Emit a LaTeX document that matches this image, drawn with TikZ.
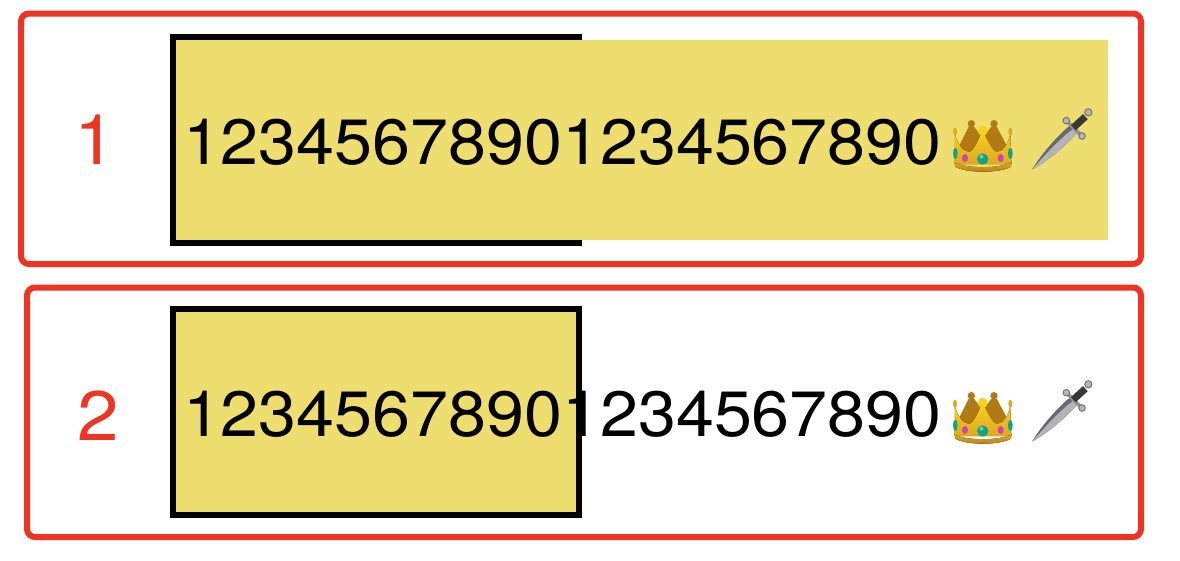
\documentclass[tikz,border=0pt]{standalone}
\usepackage{fontspec}
\setmainfont[FakeStretch=1.066]{TeX Gyre Heros}
\definecolor{redline}{HTML}{EE3524}
\definecolor{sand}{HTML}{EEDE70}
\definecolor{gold}{HTML}{DDA823}
\definecolor{golddark}{HTML}{B17A14}
\definecolor{goldlight}{HTML}{F8D21F}
\definecolor{gem}{HTML}{12A382}
\definecolor{pinkgem}{HTML}{D83FB0}
\definecolor{steel}{HTML}{8F8F94}
\definecolor{steeldark}{HTML}{68686D}
\definecolor{steellight}{HTML}{B4B4B8}
\tikzset{
  x=1pt,y=-1pt,
  redbox/.style={draw=redline,line width=6pt,rounded corners=8pt,inner sep=0,outer sep=0,fill=white},
  digits/.style={inner sep=0,outer sep=0,anchor=base west,font=\fontsize{64}{64}\selectfont,text=black},
  rownum/.style={inner sep=0,outer sep=0,anchor=base,font=\fontsize{70}{70}\selectfont,text=redline},
  crown/.pic={
    \begin{scope}[scale=1/3]
      % rear spikes
      \fill[golddark] (86,170) -- (116,110) -- (132,110) -- (158,145) -- (184,110) -- (200,110) -- (232,170) -- (230,200) -- (90,200) -- cycle;
      \fill[golddark] (124,101) circle (11);
      \fill[golddark] (192,101) circle (11);
      % front body
      \fill[top color=goldlight,bottom color=gold]
        (75,130) .. controls (80,160) and (100,190) .. (122,184)
        .. controls (140,170) and (150,135) .. (158,122)
        .. controls (166,135) and (178,170) .. (196,184)
        .. controls (218,190) and (236,160) .. (241,130)
        -- (244,222) -- (74,222) -- cycle;
      \fill[goldlight] (158,122) circle (15);
      \fill[gold] (75,125) ellipse (6 and 12);
      \fill[gold] (241,125) ellipse (6 and 12);
      % band
      \fill[top color=gold,bottom color=golddark]
        (74,218) .. controls (110,236) and (206,236) .. (244,218)
        -- (243,230) .. controls (210,250) and (108,250) .. (76,230) -- cycle;
      % gems
      \fill[gem] (76,190) ellipse (7 and 17);
      \fill[gem] (241,190) ellipse (7 and 17);
      \fill[gem] (158,207) circle (17);
      \fill[white,opacity=.4] (154,200) circle (6);
      \fill[pinkgem] (105,204) ellipse (9 and 12);
      \fill[pinkgem] (212,204) ellipse (9 and 12);
    \end{scope}
  },
  dagger/.pic={
    \begin{scope}[scale=1/3]
      % blade
      \fill[steeldark]
        (306,239) .. controls (335,190) and (385,135) .. (418,108)
        -- (440,130) .. controls (405,170) and (350,215) .. (306,239) -- cycle;
      \fill[steellight] (306,239) .. controls (345,195) and (390,145) .. (428,118) -- (440,130) .. controls (405,170) and (350,215) .. (306,239) -- cycle;
      % guard
      \draw[line width=3.5pt,steel] (410,93) -- (456,138);
      \fill[steellight,draw=steeldark,line width=.8pt] (409,92) circle (10);
      \fill[steellight,draw=steeldark,line width=.8pt] (456,138) circle (10);
      % grip
      \draw[line width=7pt,black!78] (430,113) -- (466,80);
      % pommel
      \fill[steellight,draw=steeldark,line width=.8pt] (475,67) circle (11);
    \end{scope}
  }
}
\begin{document}
\begin{tikzpicture}
  \useasboundingbox[fill=white] (0,0) rectangle (1180,560);
  % row 1
  \node[redbox,minimum width=1120pt,minimum height=250.5pt] (box1) at (581,138.75) {};
  \node[fill=black,inner sep=0,outer sep=0,minimum width=412pt,minimum height=212pt] (frame1) at (376,140) {};
  \node[fill=sand,inner sep=0,outer sep=0,minimum width=932pt,minimum height=200pt] (fill1) at (642,140) {};
  \node[rownum] (num1) at (95,164) {1};
  \node[digits] (text1) at (183,164) {12345678901234567890};
  \pic at (930,90) {crown};
  \pic at (930,90) {dagger};
  % row 2
  \node[redbox,minimum width=1114pt,minimum height=249.5pt] (box2) at (584,412.25) {};
  \node[draw=black,fill=sand,line width=6pt,inner sep=0,outer sep=0,minimum width=406pt,minimum height=206pt] (frame2) at (376,412) {};
  \node[rownum] (num2) at (98,440) {2};
  \node[digits] (text2) at (183,436) {12345678901234567890};
  \pic at (930,362) {crown};
  \pic at (930,362) {dagger};
\end{tikzpicture}
\end{document}
